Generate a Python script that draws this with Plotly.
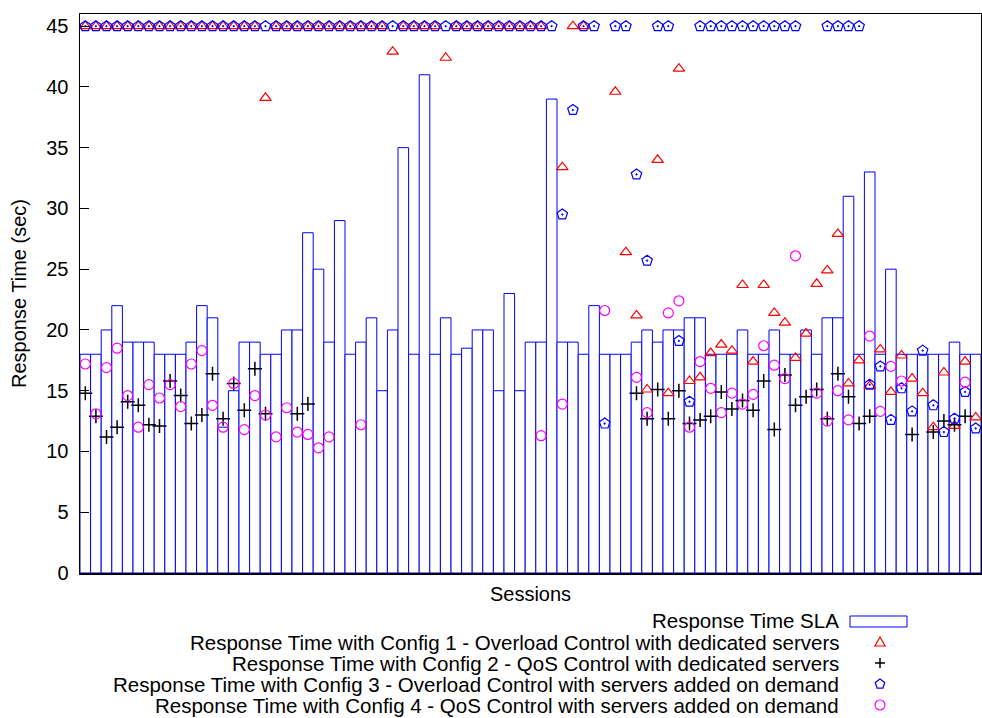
import plotly.graph_objects as go

N = None
sessions = list(range(1, 86))

# Response Time SLA (bars)
sla = [18, 18, 20, 22, 19, 19, 19, 18, 18, 18,
       19, 22, 21, 12, 15, 19, 19, 18, 18, 20,
       20, 28, 25, 19, 29, 18, 19, 21, 15, 20,
       35, 18, 41, 18, 21, 18, 18.5, 20, 20, 15,
       23, 15, 19, 19, 39, 19, 19, 18, 22, 18,
       18, 18, 19, 20, 19, 20, 20, 21, 21, 18,
       18, 18, 20, 18, 18, 20, 18, 18, 20, 18,
       21, 21, 31, 18, 33, 18, 25, 18, 18, 18,
       18, 18, 19, 18, 18]

# Config 1 - Overload Control with dedicated servers
cfg1 = [45, 45, 45, 45, 45, 45, 45, 45, 45, 45,
        45, 45, 45, 45, 45, 45, 45, 39.1, 45, 45,
        45, 45, 45, 45, 45, 45, 45, 45, 45, 42.9,
        45, 45, 45, 45, 42.4, 45, 45, 45, 45, 45,
        45, 45, 45, 45, N, 33.4, 45, 45, N, N,
        39.6, 26.4, 21.2, 15.1, 34.0, 14.8, 41.5, 15.8, 16.1, 18.1,
        18.8, 18.3, 23.7, 17.4, 23.7, 21.4, 20.6, 17.7, 19.7, 23.8,
        24.9, 27.9, 15.6, 17.5, 15.4, 18.4, 14.9, 17.9, 16.0, 14.8,
        12.0, 16.5, 12.1, 17.4, 12.8]

# Config 2 - QoS Control with dedicated servers
cfg2 = [14.8, 12.9, 11.2, 12.0, 14.1, 13.8, 12.2, 12.1, 15.8, 14.6,
        12.3, 13.0, 16.4, 12.7, 15.6, 13.4, 16.8, 13.1, N, N,
        13.1, 13.9, N, N, N, N, N, N, N, N,
        N, N, N, N, N, N, N, N, N, N,
        N, N, N, N, N, N, N, N, N, N,
        N, N, 14.8, 12.7, 15.1, 12.7, 15.0, 12.3, 12.6, 12.9,
        14.9, 13.5, 14.2, 13.4, 15.8, 11.8, 16.3, 13.8, 14.5, 15.1,
        12.7, 16.4, 14.5, 12.3, 12.9, N, N, N, 11.4, N,
        11.6, 12.5, 12.2, 12.9, N]

# Config 3 - Overload Control with servers added on demand
cfg3 = [45, 45, 45, 45, 45, 45, 45, 45, 45, 45,
        45, 45, 45, 45, 45, 45, 45, 45, 45, 45,
        45, 45, 45, 45, 45, 45, 45, 45, 45, 45,
        45, 45, 45, 45, 45, 45, 45, 45, 45, 45,
        45, 45, 45, 45, 45, 29.5, 38.1, 45, 45, 12.3,
        45, 45, 32.8, 25.7, 45, 45, 19.1, 14.1, 45, 45,
        45, 45, 45, 45, 45, 45, 45, 45, N, N,
        45, 45, 45, 45, 15.5, 17.0, 12.6, 15.2, 13.3, 18.3,
        13.8, 11.6, 12.7, 14.9, 11.9]

# Config 4 - QoS Control with servers added on demand
cfg4 = [17.2, 13.1, 16.9, 18.5, 14.6, 12.0, 15.5, 14.4, 15.5, 13.7,
        17.2, 18.3, 13.8, 12.0, 15.6, 11.8, 14.6, 13.0, 11.2, 13.6,
        11.6, 11.4, 10.3, 11.2, N, N, 12.2, N, N, N,
        N, N, N, N, N, N, N, N, N, N,
        N, N, N, 11.3, N, 13.9, N, N, N, 21.6,
        N, N, 16.1, 13.2, N, 21.4, 22.4, 12.0, 17.4, 15.2,
        13.2, 14.8, 13.9, 14.7, 18.7, 17.1, 16.0, 26.1, N, 14.8,
        12.5, 15.0, 12.6, N, 19.5, 13.3, 17.0, 15.8, N, N,
        N, N, N, 15.7, N]

y_ticks = [0, 5, 10, 15, 20, 25, 30, 35, 40, 45]

legend_labels = [
    "Response Time SLA",
    "Response Time with Config 1 - Overload Control with dedicated servers",
    "Response Time with Config 2 - QoS Control with dedicated servers",
    "Response Time with Config 3 - Overload Control with servers added on demand",
    "Response Time with Config 4 - QoS Control with servers added on demand",
]

BLUE = "#0000ff"
RED = "#ff0000"
MAG = "#ff00ff"
FONT = "Liberation Sans, Arial, Helvetica, sans-serif"
FS = 20
FS_LEG = 20.5

fig = go.Figure()
fig.add_trace(go.Bar(x=sessions, y=sla, width=1, name=legend_labels[0],
                     marker=dict(color="white", line=dict(color=BLUE, width=1))))
fig.add_trace(go.Scatter(x=sessions, y=cfg1, mode="markers", name=legend_labels[1],
                         marker=dict(symbol="triangle-up-open", size=10, color=RED,
                                     line=dict(width=1.2))))
fig.add_trace(go.Scatter(x=sessions, y=cfg2, mode="markers", name=legend_labels[2],
                         marker=dict(symbol="cross-thin-open", size=10, color="black",
                                     line=dict(width=1.5))))
fig.add_trace(go.Scatter(x=sessions, y=cfg3, mode="markers", name=legend_labels[3],
                         marker=dict(symbol="pentagon-open-dot", size=11, color=BLUE,
                                     line=dict(width=1.2))))
fig.add_trace(go.Scatter(x=sessions, y=cfg4, mode="markers", name=legend_labels[4],
                         marker=dict(symbol="circle-open", size=10, color=MAG,
                                     line=dict(width=1.2))))

fig.update_layout(
    width=982, height=718,
    margin=dict(l=80, r=1, t=14, b=145, autoexpand=False),
    plot_bgcolor="white", paper_bgcolor="white",
    bargap=0, showlegend=False, hovermode=False,
    font=dict(family=FONT, size=FS, color="black"),
)
fig.update_xaxes(range=[0.5, 85.5], showticklabels=False, ticks="", showgrid=False,
                 zeroline=False, showline=True, linecolor="black", linewidth=1.5,
                 mirror=True, automargin=False,
                 title=dict(text="Sessions", standoff=13, font=dict(size=FS)))
fig.update_yaxes(range=[0, 46], tickvals=y_ticks, ticks="inside", ticklen=9,
                 tickcolor="black", tickwidth=1, showgrid=False, zeroline=False,
                 showline=True, linecolor="black", linewidth=1.5, mirror=True,
                 ticklabelstandoff=6, automargin=False,
                 title=dict(text="Response Time (sec)", standoff=14,
                            font=dict(size=FS)))

# Custom legend (text right-aligned, sample on the right like the original)
def px_x(p):
    return (p - 80) / 901.0

def px_y(p):
    return (573 - p) / 559.0

row_y = [621, 642, 663, 684, 705]
for lab, ry in zip(legend_labels, row_y):
    fig.add_annotation(x=px_x(840), y=px_y(ry), xref="paper", yref="paper",
                       text=lab, showarrow=False, xanchor="right", yanchor="middle",
                       borderpad=0,
                       font=dict(family=FONT, size=FS_LEG, color="black"))

sx = px_x(880)
shapes = []
shapes.append(dict(type="rect", xref="paper", yref="paper",
                   x0=px_x(850), x1=px_x(907), y0=px_y(627), y1=px_y(616),
                   line=dict(color=BLUE, width=1), fillcolor="white"))
shapes.append(dict(type="path", xref="paper", yref="paper",
                   xsizemode="pixel", ysizemode="pixel", xanchor=sx, yanchor=px_y(642),
                   path="M-5,-4 L5,-4 L0,5 Z", line=dict(color=RED, width=1.2)))
shapes.append(dict(type="path", xref="paper", yref="paper",
                   xsizemode="pixel", ysizemode="pixel", xanchor=sx, yanchor=px_y(663),
                   path="M-5,0 L5,0 M0,-5 L0,5", line=dict(color="black", width=1.5)))
shapes.append(dict(type="path", xref="paper", yref="paper",
                   xsizemode="pixel", ysizemode="pixel", xanchor=sx, yanchor=px_y(684),
                   path="M0,5 L-4.76,1.55 L-2.94,-4.05 L2.94,-4.05 L4.76,1.55 Z",
                   line=dict(color=BLUE, width=1.2)))
shapes.append(dict(type="circle", xref="paper", yref="paper",
                   xsizemode="pixel", ysizemode="pixel", xanchor=sx, yanchor=px_y(705),
                   x0=-5, x1=5, y0=-5, y1=5, line=dict(color=MAG, width=1.2)))
fig.update_layout(shapes=shapes)

fig.write_html(
    "out.html",
    config={"displayModeBar": False, "staticPlot": True},
    post_script="document.body.style.margin='0';document.body.style.overflow='hidden';",
)
